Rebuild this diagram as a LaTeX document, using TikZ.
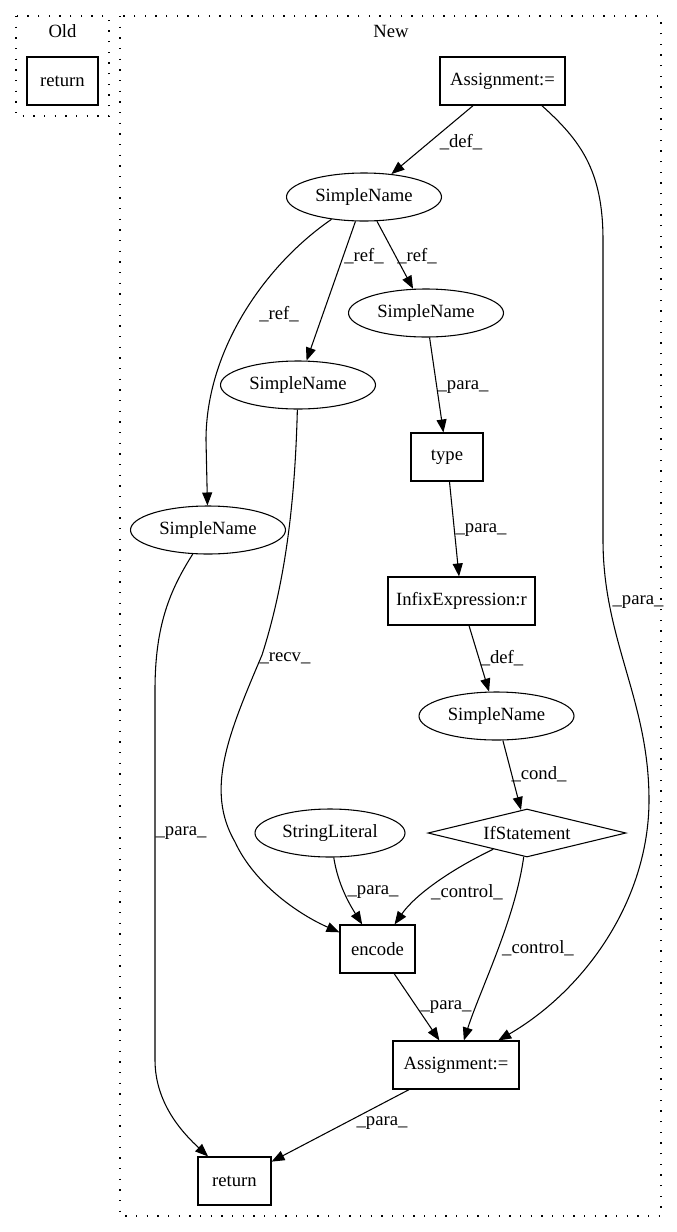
\documentclass[tikz,border=0pt]{standalone}
\usepackage{fontspec}
\setmainfont{Liberation Serif}
\usetikzlibrary{shapes.geometric,arrows.meta}
\begin{document}
\begin{tikzpicture}[x=0.75pt,y=-0.75pt,
  every node/.style={font=\fontsize{14pt}{16pt}\selectfont},
  boxnode/.style={draw,rectangle,line width=0.8pt,inner sep=0pt,minimum height=36pt},
  ellnode/.style={draw,ellipse,line width=0.8pt,inner sep=0pt,minimum height=36pt,minimum width=116.25pt},
  lbl/.style={inner sep=0pt},
  edgeline/.style={line width=0.8pt,-{Triangle[length=9.75pt,width=7.5pt]}},
  cluster/.style={line width=1pt,dash pattern=on 1pt off 7pt}
]
\useasboundingbox (0,0) rectangle (677,1232);
% clusters
\draw[cluster] (16,16) rectangle (109,116);
\draw[cluster] (120,16) rectangle (661,1216);
\node[lbl] (oldlbl) at (62.5,31) {Old};
\node[lbl] (newlbl) at (391,31) {New};
% nodes
\node[boxnode,minimum width=53.25pt] (oldret) at (62.5,81) {return};
\node[boxnode,minimum width=93.75pt] (a1) at (502.5,81) {Assignment:=};
\node[ellnode] (sn1) at (364,197) {SimpleName};
\node[ellnode] (sn2) at (426,313) {SimpleName};
\node[ellnode] (sn3) at (298,385) {SimpleName};
\node[boxnode,minimum width=54pt] (type) at (447,457) {type};
\node[ellnode] (sn4) at (208,530) {SimpleName};
\node[boxnode,minimum width=110.25pt] (infix) at (461.5,601) {InfixExpression:r};
\node[ellnode] (sn5) at (496.5,716) {SimpleName};
\node[ellnode,minimum width=112.5pt] (sl) at (330,833) {StringLiteral};
\node[draw,diamond,line width=0.8pt,inner sep=0pt,shape aspect=4.125,minimum width=148.5pt,minimum height=36pt] (ifs) at (527,833) {IfStatement};
\node[boxnode,minimum width=56.25pt] (enc) at (377.5,949) {encode};
\node[boxnode,minimum width=94.5pt] (a2) at (456,1065) {Assignment:=};
\node[boxnode,minimum width=54.75pt] (ret) at (234.5,1181) {return};
% edges
\draw[edgeline] (a1) -- (sn1);
\draw[edgeline] (a1.-32) .. controls (580,140) and (603,170) .. (603,240) -- (603,540) .. controls (603,640) and (649,700) .. (649,800) .. controls (649,900) and (585,990) .. (a2);
\draw[edgeline] (sn1) -- (sn2);
\draw[edgeline] (sn1) -- (sn3);
\draw[edgeline] (sn1) .. controls (265,265) and (206,350) .. (206,440) -- (sn4);
\draw[edgeline] (sn2) -- (type);
\draw[edgeline] (type) -- (infix);
\draw[edgeline] (sn3) .. controls (295,500) and (286,580) .. (262,655) .. controls (228,735) and (205,790) .. (235,842) .. controls (255,885) and (300,915) .. (enc);
\draw[edgeline] (sn4) .. controls (170,590) and (155,625) .. (155,690) -- (155,1060) .. controls (155,1105) and (185,1135) .. (ret);
\draw[edgeline] (infix) -- (sn5);
\draw[edgeline] (sn5) -- (ifs);
\draw[edgeline] (sl) .. controls (338,885) and (350,905) .. (enc);
\draw[edgeline] (ifs) .. controls (450,870) and (415,895) .. (enc);
\draw[edgeline] (ifs) .. controls (515,920) and (480,990) .. (a2);
\draw[edgeline] (enc) -- (a2);
\draw[edgeline] (a2) -- (ret);
% edge labels
\node[lbl] (l1) at (461,142) {\_def\_};
\node[lbl] (l2) at (638,602) {\_para\_};
\node[lbl] (l3) at (417,256) {\_ref\_};
\node[lbl] (l4) at (364,256) {\_ref\_};
\node[lbl] (l5) at (279,314) {\_ref\_};
\node[lbl] (l6) at (463,387) {\_para\_};
\node[lbl] (l7) at (481,530) {\_para\_};
\node[lbl] (l8) at (285,658) {\_recv\_};
\node[lbl] (l9) at (181,833) {\_para\_};
\node[lbl] (l10) at (502,658) {\_def\_};
\node[lbl] (l11) at (539,774) {\_cond\_};
\node[lbl] (l12) at (373,892) {\_para\_};
\node[lbl] (l13) at (467,892) {\_control\_};
\node[lbl] (l14) at (538,948) {\_control\_};
\node[lbl] (l15) at (446,1007) {\_para\_};
\node[lbl] (l16) at (382,1123) {\_para\_};
\end{tikzpicture}
\end{document}
